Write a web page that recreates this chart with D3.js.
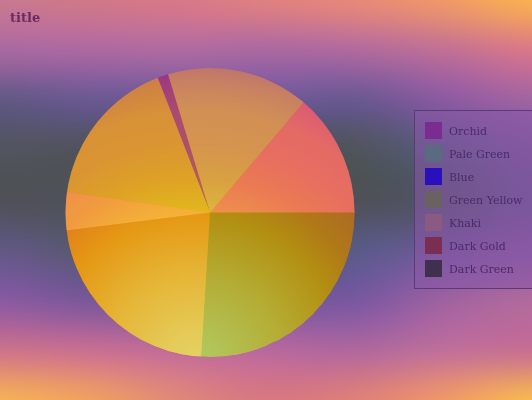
<!DOCTYPE html>
<html><head><meta charset="utf-8">
<script src="https://cdn.jsdelivr.net/npm/d3@7"></script>
<style>
html,body{margin:0;padding:0;overflow:hidden;background:#50525c}
#wrap{position:relative;width:532px;height:400px}
canvas,svg{position:absolute;left:0;top:0}
</style></head>
<body>
<div id="wrap"><canvas id="bg" width="532" height="400"></canvas><svg id="chart" width="532" height="400"></svg></div>
<script>
// ---- data ----
const categories = ["Orchid","Pale Green","Blue","Green Yellow","Khaki","Dark Gold","Dark Green"];
const values = [13.8, 15.9, 1.2, 16.8, 4.3, 22.0, 26.0];
const sliceColors = ["orchid","palegreen","blue","greenyellow","khaki","darkgoldenrod","darkgreen"];
const swatchColors = ["#7b2c91","#5a6a80","#2a10bc","#6a6262","#8a5a82","#7a2e52","#40304f"];
const titleText = "title";

// ---- background (colour grid, style only) ----
const bgX = [0,89,178,266,355,444,532];
const bgY = [0,50,100,150,200,250,300,350,400];
const bgRows = [
 ["#c87890","#d07888","#d87888","#e08080","#e88878","#f09868","#f8b050"],
 ["#a868a0","#ac68a0","#ae6aa0","#aa68a0","#b06a9c","#c07094","#d87888"],
 ["#625884","#6a5890","#6c5894","#705898","#6a5890","#8a5aa0","#a064a0"],
 ["#52545f","#50525c","#4f5159","#4f5159","#50545c","#585a80","#7a5898"],
 ["#4f5159","#4f5159","#4f5159","#4f5159","#4f5159","#52546a","#685890"],
 ["#625884","#585870","#52545e","#52545e","#5a5a86","#705896","#8a5aa0"],
 ["#8a5aa0","#7a5898","#745896","#745896","#7a58a0","#9e62a0","#b06a9c"],
 ["#cc7488","#c87090","#c06c98","#b8689c","#b0689c","#c07098","#c87090"],
 ["#f4b058","#f0a060","#e08878","#d87880","#e08078","#f09868","#f8b850"]
];
(function drawBg(){
  const cv=document.getElementById("bg"), ctx=cv.getContext("2d");
  const W=532,H=400, img=ctx.createImageData(W,H);
  const g=bgRows.map(r=>r.map(c=>{const o=d3.rgb(c);return [o.r,o.g,o.b];}));
  const nx=bgX.length, ny=bgY.length;
  const cr=(p0,p1,p2,p3,t)=>{const t2=t*t,t3=t2*t;
    return 0.5*((2*p1)+(-p0+p2)*t+(2*p0-5*p1+4*p2-p3)*t2+(-p0+3*p1-3*p2+p3)*t3);};
  const at=(j,i,k)=>g[Math.max(0,Math.min(ny-1,j))][Math.max(0,Math.min(nx-1,i))][k];
  for(let y=0;y<H;y++){
    let j=0; while(j<ny-2 && y>=bgY[j+1]) j++;
    const fy=(y-bgY[j])/(bgY[j+1]-bgY[j]);
    for(let x=0;x<W;x++){
      let i=0; while(i<nx-2 && x>=bgX[i+1]) i++;
      const fx=(x-bgX[i])/(bgX[i+1]-bgX[i]);
      const p=(y*W+x)*4;
      for(let k=0;k<3;k++){
        const rows=[];
        for(let jj=-1;jj<=2;jj++) rows.push(cr(at(j+jj,i-1,k),at(j+jj,i,k),at(j+jj,i+1,k),at(j+jj,i+2,k),fx));
        img.data[p+k]=Math.max(0,Math.min(255,cr(rows[0],rows[1],rows[2],rows[3],fy)));
      }
      img.data[p+3]=255;
    }
  }
  ctx.putImageData(img,0,0);
})();

// ---- chart ----
const svg = d3.select("#chart");
const cx=210, cy=212.5, R=144.5;
const defs = svg.append("defs");
const baseStops = [[0,"#f8f084"],[0.1,"#f6e676"],[0.3,"#f8c848"],[0.5,"#f6a018"],[0.62,"#f28022"],[0.74,"#ec6e34"],[0.85,"#e8683c"],[0.95,"#da5250"],[1,"#cc4060"]];
const lg = defs.append("radialGradient").attr("id","pieBase")
  .attr("gradientUnits","userSpaceOnUse").attr("cx",195).attr("cy",365).attr("r",300);
lg.selectAll("stop").data(baseStops).join("stop")
  .attr("offset",d=>d[0]).attr("stop-color",d=>d[1]);

svg.append("circle").attr("cx",cx).attr("cy",cy).attr("r",R).attr("fill","url(#pieBase)");

const color = d3.scaleOrdinal().domain(categories).range(sliceColors);
const pie = d3.pie().sort(null).value(d=>d.v)
  .startAngle(Math.PI/2).endAngle(Math.PI/2 - 2*Math.PI);
const arc = d3.arc().innerRadius(0).outerRadius(R);
const data = categories.map((c,i)=>({c, v:values[i]}));

svg.append("g").attr("transform",`translate(${cx},${cy})`).attr("opacity",0.27)
  .selectAll("path").data(pie(data)).join("path")
  .attr("d",arc).attr("fill",d=>color(d.data.c));

// title
svg.append("text").attr("x",10).attr("y",22).text(titleText)
  .attr("font-family","DejaVu Serif").attr("font-weight","bold").attr("font-size",13)
  .attr("fill","#6a2a62");

// legend
const swatch = d3.scaleOrdinal().domain(categories).range(swatchColors);
const lgY = d3.scalePoint().domain(categories).range([130.5, 130.5+23*6]);
const leg = svg.append("g");
leg.append("rect").attr("x",414.5).attr("y",110.5).attr("width",130).attr("height",178)
  .attr("fill","rgba(138,88,168,0.55)").attr("stroke","#5a3a78").attr("stroke-width",1);
const items = leg.selectAll("g.item").data(categories).join("g").attr("class","item");
items.append("rect").attr("x",425).attr("y",d=>lgY(d)-8.5).attr("width",17).attr("height",17)
  .attr("fill",d=>swatch(d));
items.append("text").attr("x",449).attr("y",d=>lgY(d)+4).text(d=>d)
  .attr("font-family","DejaVu Serif").attr("font-size",11).attr("fill","#4a2a6a");
</script>
</body></html>
